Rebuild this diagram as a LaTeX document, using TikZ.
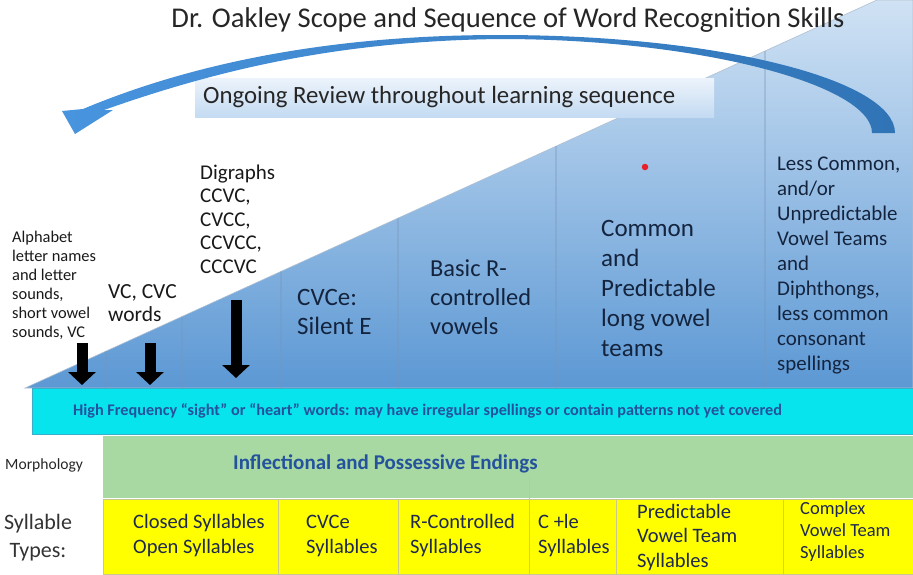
\documentclass[tikz,border=0pt]{standalone}
\usepackage{fontspec}
\setmainfont{Carlito}
\usetikzlibrary{arrows.meta,calc,positioning}

\definecolor{wedgetop}{RGB}{208,226,244}
\definecolor{wedgebot}{RGB}{92,152,212}
\definecolor{wedgeedge}{RGB}{175,192,210}
\definecolor{divline}{RGB}{120,150,185}
\definecolor{arcleft}{RGB}{72,148,222}
\definecolor{arcright}{RGB}{48,116,182}
\definecolor{navytext}{RGB}{20,36,62}
\definecolor{hfcyan}{RGB}{8,228,238}
\definecolor{hfedge}{RGB}{60,175,200}
\definecolor{hfblue}{RGB}{36,82,156}
\definecolor{morphgreen}{RGB}{169,217,163}
\definecolor{sylyellow}{RGB}{255,255,0}
\definecolor{syledge}{RGB}{200,200,140}
\definecolor{celltxt}{RGB}{30,40,80}
\newcommand{\txtsz}[2]{\fontsize{#1}{#2}\selectfont}

\begin{document}
\begin{tikzpicture}[x=1pt,y=-1pt,>=latex]
	\tikzstyle{lbl} = [inner sep=0pt, align=left, anchor=west, text=navytext]
	\tikzstyle{cell} = [draw=syledge, fill=sylyellow, anchor=north west, minimum height=75pt, inner sep=0pt]
	\tikzstyle{celltext} = [inner sep=0pt, align=left, anchor=west, text=celltxt, font=\txtsz{20.5}{25}]
	\tikzstyle{down} = [line width=11pt, -{Triangle[width=27pt,length=13pt]}]
	\tikzstyle{divider} = [draw=divline, line width=0.7pt]

	\useasboundingbox (0,0) rectangle (913,574);

	% rising wedge of skills
	\coordinate (tip) at (25,388);
	\coordinate (peak) at (877,0);
	\shade[top color=wedgetop, bottom color=wedgebot, draw=wedgeedge, line width=0.6pt]
		(tip) -- (peak) -- (913,0) -- (913,388) -- cycle;

	\foreach \x [evaluate=\x as \t using (\x-25)/852] in {106,182,281,398,556,765}
		\draw[divider] ($(tip)!\t!(peak)$) -- (\x,388);

	% review banner
	\node[top color={rgb,255:red,236;green,243;blue,251}, bottom color={rgb,255:red,196;green,219;blue,242},
		minimum width=519pt, minimum height=39pt, inner sep=0pt] (reviewbox) at (454.5,97.5) {};
	\node[lbl, text=black!85, font=\txtsz{24.8}{28}] (review) at (203,97.5) {Ongoing Review throughout learning sequence};

	% curved review arrow
	\shade[left color=arcleft, right color=arcright]
		(83,109) .. controls (200,60) and (340,35) .. (500,35)
		.. controls (720,35) and (895,80) .. (895,133)
		-- (872,133)
		.. controls (872,85) and (700,39) .. (500,39)
		.. controls (340,41) and (220,69) .. (104,110)
		-- (113,110) -- (75,134) -- (62,111) -- cycle;

	\node[font=\txtsz{28.6}{31}, text=black!85, inner sep=0pt] (title) at (508,20)
		{Dr. Oakley Scope and Sequence of Word Recognition Skills};

	% stages along the wedge
	\node[lbl, text=black!90, font=\txtsz{16.4}{19}] (alpha) at (12,285.5)
		{Alphabet\\letter names\\and letter\\sounds,\\short vowel\\sounds, VC};
	\node[lbl, text=black!90, font=\txtsz{21.5}{23}] (vc) at (108,303.5) {VC, CVC\\words};
	\node[lbl, text=black!90, font=\txtsz{21}{23.5}] (digraph) at (200,219)
		{Digraphs\\CCVC,\\CVCC,\\CCVCC,\\CCCVC};
	\node[lbl, font=\txtsz{25}{29}] (cvce) at (297,311.5) {CVCe:\\Silent E};
	\node[lbl, font=\txtsz{24.4}{29}] (rctrl) at (430,297) {Basic R-\\controlled\\vowels};
	\node[lbl, font=\txtsz{25}{30}] (vteam) at (601,288)
		{Common\\and\\Predictable\\long vowel\\teams};
	\node[lbl, font=\txtsz{20.9}{25}] (diph) at (777,265.5)
		{Less Common,\\and/or\\Unpredictable\\Vowel Teams\\and\\Diphthongs,\\less common\\consonant\\spellings};
	\node[circle, fill={rgb,255:red,232;green,30;blue,40}, minimum size=6.5pt, inner sep=0pt] (dot) at (645,167) {};

	% down arrows
	\coordinate (alphaTop) at (82,343);
	\coordinate (alphaEnd) at (82,385);
	\coordinate (vcTop) at (150,343);
	\coordinate (vcEnd) at (150,385);
	\coordinate (digraphTop) at (236,300);
	\coordinate (digraphEnd) at (236,378);
	\draw[down] (alphaTop) -- (alphaEnd);
	\draw[down] (vcTop) -- (vcEnd);
	\draw[down] (digraphTop) -- (digraphEnd);

	% sight word band
	\node[draw=hfedge, fill=hfcyan, anchor=north west, minimum width=881pt, minimum height=46pt, inner sep=0pt] (hf) at (32,388) {};
	\node[font=\bfseries\txtsz{16.2}{18}, text=hfblue, anchor=west, inner sep=0pt] (hftext) at (73,411)
		{High Frequency “sight” or “heart” words: may have irregular spellings or contain patterns not yet covered};

	% morphology band
	\node[fill=morphgreen, anchor=north west, minimum width=810pt, minimum height=62pt, inner sep=0pt] (morph) at (103,436) {};
	\node[font=\bfseries\txtsz{21}{23}, text=hfblue, anchor=west, inner sep=0pt] (endings) at (233,464)
		{Inflectional and Possessive Endings};
	\node[font=\txtsz{15.6}{18}, text=black!85, anchor=west, inner sep=0pt] (morphlbl) at (5,465) {Morphology};

	% syllable types row
	\foreach \x/\w [count=\i] in {103/175,278/120,398/131,529/87,616/167,783/130}
		\node[cell, minimum width=\w pt] (syl\i) at (\x,499) {};
	\draw[black!25, line width=0.6pt] (529,478) -- (syl4.north west);

	\node[celltext] (closed) at (133,535.5) {Closed Syllables\\Open Syllables};
	\node[celltext] (cvcesyl) at (306,535.5) {CVCe\\Syllables};
	\node[celltext] (rsyl) at (410,535.5) {R-Controlled\\Syllables};
	\node[celltext] (clesyl) at (538,535.5) {C +le\\Syllables};
	\node[celltext, font=\txtsz{20.5}{24.5}] (vtsyl) at (637,537.5) {Predictable\\Vowel Team\\Syllables};
	\node[celltext, font=\txtsz{18.5}{22}] (cxsyl) at (800,532) {Complex\\Vowel Team\\Syllables};
	\node[font=\txtsz{22}{28}, align=center, text=black!80, inner sep=0pt] (syltypes) at (38,538) {Syllable\\Types:};
\end{tikzpicture}
\end{document}
